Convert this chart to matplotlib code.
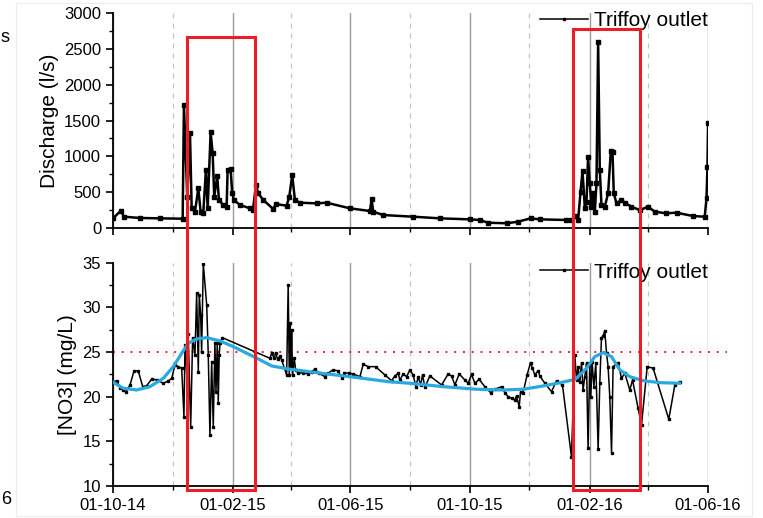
import matplotlib
matplotlib.use('Agg')
import numpy as np
import pandas as pd
import matplotlib.pyplot as plt
import matplotlib.dates as mdates
import matplotlib.transforms as mtransforms
from matplotlib.patches import Rectangle

plt.rcParams['font.family'] = ['Liberation Sans', 'DejaVu Sans']

start = pd.Timestamp('2014-10-01')

# discharge (l/s), x given as days after 01-10-14
q_days = [0, 7.9, 11.3, 27.6, 48.1, 71.3, 72.6, 76.0, 78.8, 80.5, 83.9, 87.3, 89.7, 92.4,
          95.1, 96.9, 99.9, 102.0, 103.6, 106.7, 108.4, 112.8, 116.3, 117.3, 120.4, 122.0,
          123.8, 129.9, 140.2, 143.2, 146.3, 148.6, 153.8, 164.0, 166.8, 177.7, 180.4, 183.4,
          186.2, 191.3, 208.4, 218.6, 242.5, 262.9, 264.7, 266.3, 276.5, 307.2, 334.5, 365.2,
          375.4, 383.9, 402.8, 414.6, 427.3, 436.8, 464.1, 469.2, 472.6, 476.0, 478.5, 480.5,
          482.9, 484.6, 486.2, 487.9, 489.7, 491.3, 493.1, 494.8, 496.5, 498.2, 499.9, 503.3,
          506.7, 509.5, 511.2, 512.5, 515.3, 520.4, 523.8, 530.6, 539.1, 547.6, 554.5, 566.4,
          576.7, 593.7, 605.6, 607.4, 608.4, 609.0]
q_vals = [135, 240, 158, 140, 135, 130, 1716, 437, 1321, 275, 228, 554, 228, 214,
          809, 275, 1335, 1042, 437, 725, 391, 321, 297, 809, 819, 484,
          391, 321, 275, 250, 600, 484, 391, 265, 335, 311, 437, 739,
          391, 353, 344, 353, 275, 237, 400, 228, 181, 158, 135, 121,
          112, 74, 66, 88, 135, 121, 112, 112, 167, 112, 507, 795,
          275, 367, 995, 623, 297, 484, 228, 623, 2590, 809, 321, 297,
          484, 1079, 1065, 484, 344, 391, 353, 297, 251, 297, 228, 205,
          214, 167, 158, 414, 855, 1460]

# nitrate (mg/L)
n_days = [0.3, 3.8, 7.2, 10.5, 13.3, 17.4, 21.5, 25.9, 30.4, 34.5, 39.6, 44.7, 51.5, 56.6,
          60.1, 63.4, 66.8, 70.3, 72.6, 73.7, 75.4, 77.0, 79.5, 81.5, 83.9, 85.6, 87.3, 88.3,
          89.7, 90.7, 92.4, 95.9, 97.5, 99.2, 101.0, 102.6, 104.3, 105.4, 106.7, 107.7, 108.7,
          109.5, 111.8, 160.6, 162.4, 165.0, 166.4, 168.5, 170.8, 172.6, 177.7, 179.3, 180.4,
          181.4, 182.1, 182.8, 183.8, 185.5, 186.9, 189.6, 194.7, 199.8, 203.3, 206.6, 210.7,
          216.9, 220.3, 224.8, 229.9, 234.6, 236.7, 241.4, 245.8, 252.7, 256.1, 261.2, 268.7,
          278.3, 285.1, 288.5, 291.9, 293.6, 297.0, 300.5, 303.8, 307.2, 310.0, 312.3, 314.8,
          316.8, 319.2, 324.3, 336.3, 343.0, 346.5, 349.9, 354.3, 360.1, 363.5, 367.0, 370.3,
          374.7, 380.6, 386.4, 390.8, 397.6, 401.0, 404.4, 407.9, 411.3, 413.0, 415.7, 417.1,
          419.7, 423.8, 427.3, 429.3, 431.7, 435.1, 436.8, 441.9, 448.8, 453.9, 460.0, 469.2,
          472.6, 474.4, 476.0, 477.8, 479.5, 481.1, 482.9, 484.6, 486.2, 487.9, 489.0, 490.3,
          492.1, 494.1, 496.5, 498.2, 499.9, 501.6, 503.3, 505.1, 506.7, 508.4, 510.2, 511.8,
          516.9, 520.4, 523.8, 528.9, 531.7, 537.4, 540.9, 546.7, 552.8, 568.8, 575.0, 580.0]
n_vals = [21.68, 21.76, 21.0, 20.75, 20.56, 21.3, 22.88, 22.88, 21.12, 21.23, 21.98, 21.87, 21.5, 21.76,
          22.06, 23.55, 23.36, 23.18, 17.76, 25.79, 22.8, 26.99, 16.64, 26.61, 24.67, 31.58, 22.8, 31.39,
          29.15, 25.04, 34.9, 30.27, 24.67, 15.71, 23.92, 16.64, 25.98, 20.56, 25.98, 19.26, 24.67,
          25.98, 26.61, 24.3, 24.86, 24.3, 24.93, 24.18, 24.56, 24.11, 22.43, 32.51, 22.43,
          28.22, 23.36, 27.47, 22.43, 24.3, 22.99, 22.62, 22.69, 22.54, 22.8, 23.07, 22.62,
          22.24, 22.62, 22.99, 22.91, 22.06, 22.69, 22.62, 22.54, 22.24, 23.63, 23.36, 23.36,
          22.43, 21.79, 22.32, 22.62, 21.87, 22.54, 22.24, 22.99, 22.43, 21.12, 22.24, 21.31,
          22.43, 21.05, 22.32, 21.31, 22.54, 22.32, 21.31, 22.54, 21.87, 21.5, 22.5, 21.5,
          21.94, 21.12, 20.45, 20.83, 21.12, 20.45, 20.0, 19.82, 19.63, 20.08, 18.88, 20.56,
          20.45, 22.43, 23.81, 23.18, 22.43, 22.91, 22.32, 21.5, 20.56, 21.79, 21.31, 13.28,
          24.67, 21.87, 23.36, 21.68, 23.81, 20.75, 22.24, 23.74, 14.22, 23.55, 20.0, 23.92,
          21.12, 23.74, 14.11, 21.57, 26.54, 26.8, 27.39, 24.86, 23.36, 20.0, 13.73, 23.36,
          23.81, 22.06, 22.62, 20.75, 21.87, 18.7, 16.83, 23.36, 23.18, 17.47, 21.31, 21.68]

# smooth fit through nitrate
fit_days = [0.3, 10.5, 24.2, 37.8, 51.5, 61.7, 70.3, 77.0, 85.6, 95.9, 109.5, 123.1, 136.8, 145.3,
            162.4, 179.3, 213.5, 247.5, 281.7, 303.8, 337.9, 372.1, 399.3, 419.7, 440.2, 458.0,
            473.1, 484.6, 493.1, 501.6, 510.2, 518.7, 528.9, 542.5, 559.6, 580.0]
fit_vals = [21.6, 20.94, 20.75, 21.12, 22.06, 23.36, 24.86, 25.98, 26.46, 26.61, 26.24, 25.6, 24.86, 24.41,
            23.44, 23.1, 22.62, 22.17, 21.68, 21.5, 21.12, 20.83, 20.75, 20.83, 21.2, 21.57,
            21.94, 23.18, 24.48, 24.93, 24.48, 22.99, 22.24, 21.79, 21.57, 21.5]

threshold = 25.0
# highlighted periods (days after 01-10-14)
boxes = [(75.7, 145.3, 0.929), (470.3, 539.1, 0.944)]

def todate(d):
    return start + pd.to_timedelta(np.asarray(d), unit='D')

xmin = pd.Timestamp('2014-10-01'); xmax = pd.Timestamp('2016-06-01')

fig = plt.figure(figsize=(7.63, 5.18), dpi=100)
ax1 = fig.add_axes([0.1481, 0.5598, 0.7799, 0.4151])
ax2 = fig.add_axes([0.1481, 0.0618, 0.7799, 0.4311])

ax1.plot(todate(q_days), q_vals, color='k', linewidth=1.8, marker='s', markersize=2.5,
         label='Triffoy outlet', zorder=3)
ax2.plot(todate(n_days), n_vals, color='k', linewidth=1.1, marker='s', markersize=2,
         label='Triffoy outlet', zorder=3)
ax2.plot(todate(fit_days), fit_vals, color='#29a9e0', linewidth=2.3, zorder=4)
ax2.plot([xmin, todate(628)], [threshold, threshold], color='#ee2222', linestyle=(0, (1, 3.5)),
         linewidth=1.4, clip_on=False, zorder=2)

for ax in (ax1, ax2):
    ax.set_xlim(xmin, xmax)
    ax.xaxis.set_major_locator(mdates.MonthLocator(bymonth=(2, 6, 10)))
    ax.xaxis.set_minor_locator(mdates.MonthLocator(bymonth=(4, 8, 12)))
    ax.xaxis.set_major_formatter(mdates.DateFormatter('%d-%m-%y'))
    ax.grid(True, which='major', axis='x', color='#9a9a9a', linewidth=1.0)
    ax.grid(True, which='minor', axis='x', color='#c4c4c4', linewidth=0.9, linestyle=(0, (4, 4)))
    ax.spines['top'].set_visible(False)
    ax.spines['right'].set_visible(False)
    ax.spines['left'].set_linewidth(1.3)
    ax.spines['bottom'].set_linewidth(1.3)
    ax.tick_params(which='major', direction='out', length=5, width=1.2, labelsize=12)
    ax.tick_params(which='minor', direction='out', length=3, width=1.0)
    leg = ax.legend(loc='upper right', frameon=False, fontsize=15, numpoints=1, handlelength=2.3,
                    handletextpad=0.3, borderpad=0, borderaxespad=0)
    leg.get_lines()[0].set_linewidth(1.1)
    leg.get_lines()[0].set_markersize(2)

ax1.set_ylim(0, 3000)
ax1.set_yticks(np.arange(0, 3001, 500))
ax1.set_yticks(np.arange(250, 3000, 500), minor=True)
ax1.tick_params(axis='x', labelbottom=False)
ax1.set_ylabel('Discharge (l/s)', fontsize=15)
ax1.get_legend().set_bbox_to_anchor((1.0, 1.01))

ax2.set_ylim(10, 35)
ax2.set_yticks(np.arange(10, 36, 5))
ax2.set_yticks(np.arange(12.5, 35, 5), minor=True)
ax2.set_ylabel('[NO3] (mg/L)', fontsize=15)
ax2.get_legend().set_bbox_to_anchor((1.0, 1.0))

# red boxes spanning both panels
trans = mtransforms.blended_transform_factory(ax2.transData, fig.transFigure)
for d0, d1, top in boxes:
    x0 = mdates.date2num(todate(d0)); x1 = mdates.date2num(todate(d1))
    fig.patches.append(Rectangle((x0, 0.054), x1 - x0, top - 0.054, transform=trans,
                                 fill=False, edgecolor='#ee1c25', linewidth=2.2, zorder=10))

# frame and bits of neighbouring panel
fig.patches.append(Rectangle((0.021, 0.004), 0.965, 0.99, transform=fig.transFigure,
                             fill=False, edgecolor='#ececec', linewidth=0.8))
fig.text(0.001, 0.927, 's', fontsize=13, va='center', ha='left')
fig.text(0.001, 0.035, '6', fontsize=13, va='center', ha='left')

plt.savefig('out.png', dpi=100)
